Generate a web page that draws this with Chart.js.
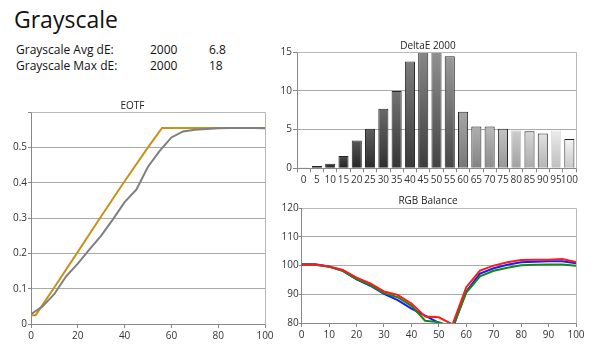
<!DOCTYPE html>
<html>
<head>
<meta charset="utf-8">
<script src="https://cdn.jsdelivr.net/npm/chart.js@4/dist/chart.umd.min.js"></script>
<style>
  html, body { margin: 0; padding: 0; background: #fff; }
  body { width: 600px; height: 359px; position: relative; overflow: hidden; font-family: "Open Sans", sans-serif; color: #111; }
  .t { position: absolute; white-space: nowrap; }
  .h1 { font-size: 23px; line-height: 23px; }
  .row { font-size: 12px; line-height: 12px; }
  .box { position: absolute; }
</style>
</head>
<body>
<div class="t h1" style="left:14px; top:8px;">Grayscale</div>
<div class="t row" style="left:16px; top:43.6px;">Grayscale Avg dE:</div>
<div class="t row" style="left:150px; top:43.6px;">2000</div>
<div class="t row" style="left:209px; top:43.6px;">6.8</div>
<div class="t row" style="left:16px; top:60.3px;">Grayscale Max dE:</div>
<div class="t row" style="left:150px; top:60.3px;">2000</div>
<div class="t row" style="left:209px; top:60.3px;">18</div>

<div class="box" style="left:0px; top:95px; width:280px; height:249px;"><canvas id="eotf"></canvas></div>
<div class="box" style="left:280px; top:36px; width:320px; height:152px;"><canvas id="de"></canvas></div>
<div class="box" style="left:280px; top:192px; width:320px; height:151px;"><canvas id="rgb"></canvas></div>

<script>
// ---------- data ----------
const eotfTargetX = [0, 2, 10, 20, 30, 40, 50, 56, 60, 70, 80, 90, 100];
const eotfTarget  = [0.025, 0.025, 0.104, 0.204, 0.305, 0.404, 0.5, 0.555, 0.555, 0.555, 0.555, 0.555, 0.555];
const eotfMeasX   = [0, 5, 10, 15, 20, 25, 30, 35, 40, 45, 50, 55, 60, 65, 70, 75, 80, 85, 90, 95, 100];
const eotfMeasured = [0.028, 0.05, 0.085, 0.135, 0.171, 0.211, 0.25, 0.296, 0.345, 0.38, 0.445, 0.49, 0.528, 0.545, 0.55, 0.552, 0.554, 0.555, 0.555, 0.555, 0.554];

const deCategories = ['0','5','10','15','20','25','30','35','40','45','50','55','60','65','70','75','80','85','90','95','100'];
const deValues = [0.05, 0.3, 0.6, 1.6, 3.6, 5.1, 7.7, 10.0, 13.8, 18, 17.5, 14.5, 7.3, 5.4, 5.4, 5.1, 4.9, 4.8, 4.5, 4.9, 3.8];

const rgbX = [0, 5, 10, 15, 20, 25, 30, 35, 40, 45, 50, 55, 60, 65, 70, 75, 80, 85, 90, 95, 100];
const rgbRed   = [100.3, 100.3, 99.7, 98.5, 95.8, 93.8, 91.0, 89.8, 86.8, 82.3, 82.0, 79.5, 92.5, 98.3, 100.0, 101.2, 102.0, 102.1, 102.1, 102.3, 101.3];
const rgbGreen = [100.3, 100.3, 99.6, 98.2, 95.3, 93.2, 90.4, 89.0, 86.0, 80.8, 80.3, 78.5, 90.6, 96.3, 98.2, 99.3, 100.1, 100.3, 100.4, 100.4, 100.0];
const rgbBlue  = [100.5, 100.5, 99.7, 98.2, 95.2, 93.0, 90.2, 88.0, 85.0, 82.6, 80.0, 78.0, 91.0, 97.2, 99.1, 100.3, 101.2, 101.4, 101.5, 101.5, 100.8];

// ---------- styling helpers ----------
const FONT = "'Open Sans', sans-serif";
const GRID = '#a9a9a9';
const AXIS = '#888888';
const LABEL = '#333';
Chart.defaults.font.family = FONT;
Chart.defaults.color = LABEL;
Chart.defaults.animation = false;

const framePlugin = {
  id: 'frame',
  afterDraw(chart) {
    const a = chart.chartArea, c = chart.ctx;
    c.save();
    c.strokeStyle = '#b8b8b8';
    c.lineWidth = 1;
    c.beginPath();
    c.moveTo(Math.round(a.left) + 0.5, Math.round(a.top) + 0.5);
    c.lineTo(Math.round(a.right) + 0.5, Math.round(a.top) + 0.5);
    c.lineTo(Math.round(a.right) + 0.5, Math.round(a.bottom) + 0.5);
    c.stroke();
    c.restore();
  }
};

function titleOpts(text, top, bottom) {
  return { display: true, text, color: '#222', font: { size: 10, family: FONT, weight: 'normal', lineHeight: 1.1 }, padding: { top, bottom } };
}
function zip(xs, ys) { return xs.map((x, i) => ({ x, y: ys[i] })); }

// ---------- EOTF ----------
new Chart(document.getElementById('eotf'), {
  type: 'line',
  data: {
    datasets: [
      { data: zip(eotfMeasX, eotfMeasured), borderColor: '#7f7f7f', borderWidth: 2, pointRadius: 0, tension: 0 },
      { data: zip(eotfTargetX, eotfTarget), borderColor: '#c8911c', borderWidth: 2, pointRadius: 0, tension: 0 }
    ]
  },
  options: {
    responsive: true, maintainAspectRatio: false,
    layout: { padding: { left: 0, right: 15, top: 0, bottom: 0 } },
    plugins: { legend: { display: false }, tooltip: { enabled: false }, title: titleOpts('EOTF', 6, 0) },
    scales: {
      x: {
        type: 'linear', min: 0, max: 100,
        ticks: { stepSize: 20, padding: 2, font: { size: 10 }, maxRotation: 0 },
        grid: { drawOnChartArea: false, tickLength: 4, tickColor: AXIS },
        border: { color: AXIS },
        afterFit(s) { s.height = 20; }
      },
      y: {
        min: 0, max: 0.6,
        ticks: { stepSize: 0.1, padding: 1, font: { size: 10 },
          callback: v => (Math.abs(v - 0.6) < 1e-9 ? '' : (v === 0 ? '0' : v.toFixed(1))) },
        grid: { color: c => (c.tick && c.tick.value === 0 ? 'transparent' : GRID), tickLength: 3, tickColor: AXIS },
        border: { color: AXIS },
        afterFit(s) { s.width = 31; }
      }
    }
  },
  plugins: [framePlugin]
});

// ---------- DeltaE 2000 ----------
function barTop(i) { return Math.min(255, 45 + 10 * i); }
function barBottom(i) { const t = barTop(i); return Math.max(18, Math.round(i <= 11 ? t * 0.45 : t - 45)); }
function g(v) { v = Math.round(v); return `rgb(${v},${v},${v})`; }

new Chart(document.getElementById('de'), {
  type: 'bar',
  data: {
    labels: deCategories,
    datasets: [{
      data: deValues,
      barPercentage: 0.76, categoryPercentage: 1,
      borderWidth: 1,
      borderColor: c => (c.dataIndex === 16 || c.dataIndex === 19 ? g(barTop(c.dataIndex) - 10) : '#262626'),
      backgroundColor: c => {
        const i = c.dataIndex;
        const chart = c.chart;
        const ys = chart.scales && chart.scales.y;
        if (!chart.chartArea || !ys) return g((barTop(i) + barBottom(i)) / 2);
        const top = ys.getPixelForValue(Math.min(c.raw, ys.max));
        const bot = ys.getPixelForValue(0);
        if (bot - top < 2) return g(barBottom(i));
        const grad = chart.ctx.createLinearGradient(0, top, 0, bot);
        grad.addColorStop(0, g(barTop(i)));
        grad.addColorStop(1, g(barBottom(i)));
        return grad;
      }
    }]
  },
  options: {
    responsive: true, maintainAspectRatio: false,
    layout: { padding: { left: 0, right: 24, top: 0, bottom: 0 } },
    plugins: { legend: { display: false }, tooltip: { enabled: false }, title: titleOpts('DeltaE 2000', 4.2, 1.1) },
    scales: {
      x: {
        ticks: { autoSkip: false, maxRotation: 0, minRotation: 0, padding: 2, font: { size: 10 } },
        grid: { drawOnChartArea: false, tickLength: 4, tickColor: AXIS, offset: true },
        border: { color: AXIS },
        afterFit(s) { s.height = 19.7; }
      },
      y: {
        min: 0, max: 15,
        ticks: { stepSize: 5, padding: 1, font: { size: 10 } },
        grid: { color: c => (c.tick && c.tick.value === 0 ? 'transparent' : GRID), tickLength: 4, tickColor: AXIS },
        border: { color: AXIS },
        afterFit(s) { s.width = 17; }
      }
    }
  },
  plugins: [framePlugin]
});

// ---------- RGB Balance ----------
new Chart(document.getElementById('rgb'), {
  type: 'line',
  data: {
    datasets: [
      { data: zip(rgbX, rgbRed),   borderColor: '#ff1a1a', borderWidth: 2, pointRadius: 0, tension: 0 },
      { data: zip(rgbX, rgbGreen), borderColor: '#148a14', borderWidth: 2, pointRadius: 0, tension: 0 },
      { data: zip(rgbX, rgbBlue),  borderColor: '#1a1aff', borderWidth: 2, pointRadius: 0, tension: 0 }
    ]
  },
  options: {
    responsive: true, maintainAspectRatio: false,
    layout: { padding: { left: 0, right: 24, top: 0, bottom: 0 } },
    plugins: { legend: { display: false }, tooltip: { enabled: false }, title: titleOpts('RGB Balance', 3.2, 2.1) },
    scales: {
      x: {
        type: 'linear', min: 0, max: 100,
        ticks: { stepSize: 10, padding: 2, font: { size: 10 }, maxRotation: 0 },
        grid: { drawOnChartArea: false, tickLength: 4, tickColor: AXIS },
        border: { color: AXIS },
        afterFit(s) { s.height = 20; }
      },
      y: {
        min: 80, max: 120,
        ticks: { stepSize: 10, padding: 0, font: { size: 10 } },
        grid: { color: c => (c.tick && c.tick.value === 80 ? 'transparent' : GRID), tickLength: 3, tickColor: AXIS },
        border: { color: AXIS },
        afterFit(s) { s.width = 21.7; }
      }
    }
  },
  plugins: [framePlugin]
});
</script>
</body>
</html>
